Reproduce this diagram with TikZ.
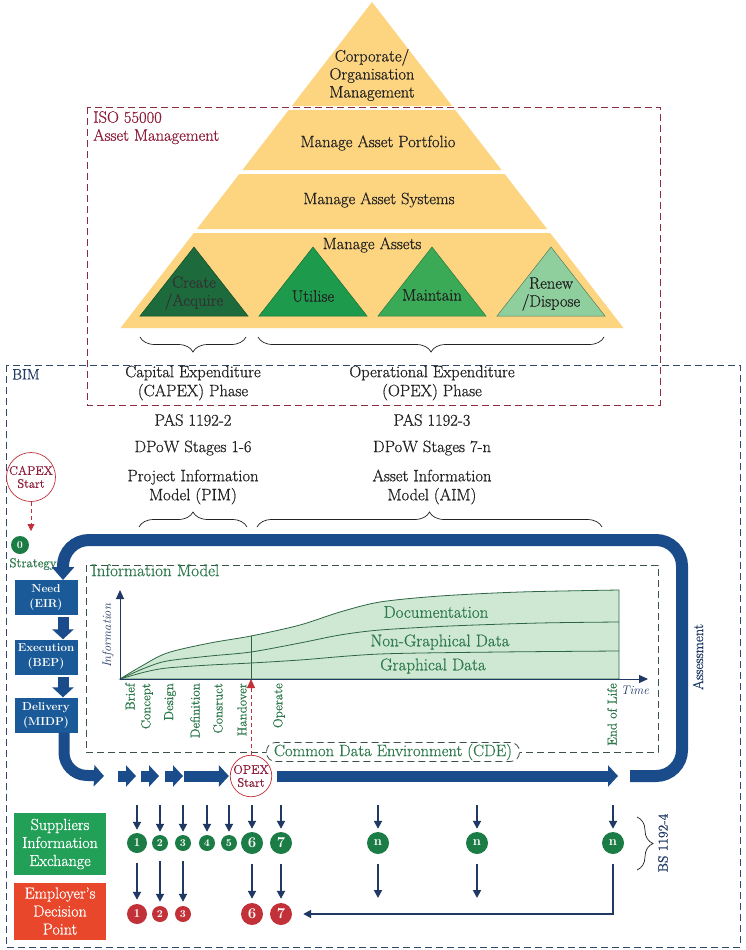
\documentclass[tikz,border=0pt]{standalone}
\usepackage{fontspec}
\setmainfont{Latin Modern Roman}[UprightFeatures={FakeBold=0.7}]
\usetikzlibrary{arrows.meta,decorations.pathreplacing,calc}
\definecolor{pyr}{HTML}{FDD581}
\definecolor{triA}{HTML}{1D6A3C}
\definecolor{triB}{HTML}{1E9A4D}
\definecolor{triC}{HTML}{3BAA56}
\definecolor{triD}{HTML}{8ECF9D}
\definecolor{navy}{HTML}{1F3864}
\definecolor{cband}{HTML}{1A4B8A}
\definecolor{boxnavy}{HTML}{1B5A98}
\definecolor{darkred}{HTML}{8E1F3C}
\definecolor{rdash}{HTML}{8A2B3E}
\definecolor{bdash}{HTML}{34486B}
\definecolor{cgreen}{HTML}{1B7C45}
\definecolor{cred}{HTML}{C23038}
\definecolor{supg}{HTML}{22A058}
\definecolor{empo}{HTML}{E9472B}
\definecolor{gfill}{HTML}{CFE8D3}
\definecolor{gline}{HTML}{2D6645}
\definecolor{gtext}{HTML}{2F7A4C}
\definecolor{imdash}{HTML}{3C5248}
\definecolor{txt}{HTML}{222222}
\begin{document}
\begin{tikzpicture}[x=1pt,y=-1pt,
  lbl/.style={font=\fontsize{16.5}{19}\selectfont, align=center, text=txt, inner sep=1pt},
  navybox/.style={fill=boxnavy, text=white, font=\bfseries\fontsize{11.5}{15}\selectfont, align=center, minimum width=63pt, minimum height=35pt, inner sep=0pt},
  bandline/.style={draw=cband, line width=12pt},
  blockarrow/.style={draw=cband, line width=11pt, -{Triangle[length=10pt,width=21pt]}},
  thinarrow/.style={draw=navy, line width=1.8pt, -{Triangle[length=8pt,width=8pt]}},
  brc/.style={draw=txt, line width=0.7pt, decorate, decoration={brace, amplitude=15pt}},
  gsmall/.style={circle, fill=cgreen, text=white, font=\bfseries\fontsize{10.5}{10}\selectfont, inner sep=0pt, minimum size=16pt},
  gmid/.style={circle, fill=cgreen, text=white, font=\bfseries\fontsize{12}{12}\selectfont, inner sep=0pt, minimum size=20pt},
  gbig/.style={circle, fill=cgreen, text=white, font=\bfseries\fontsize{15}{15}\selectfont, inner sep=0pt, minimum size=22pt},
  rsmall/.style={circle, fill=cred, text=white, font=\bfseries\fontsize{10.5}{10}\selectfont, inner sep=0pt, minimum size=16pt},
  rmid/.style={circle, fill=cred, text=white, font=\bfseries\fontsize{12}{12}\selectfont, inner sep=0pt, minimum size=20pt},
  rbig/.style={circle, fill=cred, text=white, font=\bfseries\fontsize{15}{15}\selectfont, inner sep=0pt, minimum size=22pt},
  startc/.style={circle, draw=cred, line width=0.7pt, fill=white, text=darkred, font=\fontsize{12.5}{13}\selectfont, align=center, inner sep=0pt, minimum size=41pt},
  reddash/.style={draw=cred, line width=0.8pt, dash pattern=on 4pt off 3pt},
  stage/.style={rotate=90, anchor=east, text=gtext, font=\fontsize{13}{15}\selectfont, inner sep=0pt},
  gtxt/.style={text=gtext, font=\fontsize{17}{19}\selectfont, inner sep=1pt},
  curve/.style={draw=gline, line width=0.8pt}
]
\useasboundingbox (0,0) rectangle (745,950);
\fill[white] (0,0) rectangle (745,950);

% ---------- pyramid ----------
\fill[pyr] (372,2) -- (452.2,106) -- (291.8,106) -- cycle;
\fill[pyr] (288.7,110) -- (455.3,110) -- (501.6,170) -- (242.4,170) -- cycle;
\fill[pyr] (239.3,174) -- (504.7,174) -- (547.1,229) -- (196.9,229) -- cycle;
\fill[pyr] (193.8,233) -- (550.2,233) -- (623.5,328) -- (120.5,328) -- cycle;
\filldraw[fill=triA, draw=triA!70!black, line width=0.5pt] (140,316) -- (194,247) -- (248,316) -- cycle;
\filldraw[fill=triB, draw=triB!70!black, line width=0.5pt] (259,316) -- (313,247) -- (367,316) -- cycle;
\filldraw[fill=triC, draw=triC!70!black, line width=0.5pt] (378,316) -- (432,247) -- (486,316) -- cycle;
\filldraw[fill=triD, draw=triD!60!black, line width=0.5pt] (497,316) -- (551,247) -- (605,316) -- cycle;

\node[lbl, font=\fontsize{16.5}{18}\selectfont] (corp) at (372,75) {Corporate/\\Organisation\\Management};
\node[lbl] (portf) at (378,143) {Manage Asset Portfolio};
\node[lbl] (syst) at (379,200) {Manage Asset Systems};
\node[lbl] (massets) at (372,245) {Manage Assets};
\node[lbl, text=black!80, font=\fontsize{16.5}{18}\selectfont] (create) at (194,293) {Create\\/Acquire};
\node[lbl] (util) at (313,296) {Utilise};
\node[lbl] (maint) at (432,295) {Maintain};
\node[lbl, font=\fontsize{16.5}{18}\selectfont] (renew) at (551,294) {Renew\\/Dispose};

% ---------- ISO box ----------
\draw[rdash, line width=0.8pt, dash pattern=on 7pt off 4pt] (87,107) rectangle (660,405);
\node[lbl, text=darkred, align=left, anchor=north west, font=\fontsize{16.5}{18}\selectfont] (iso) at (92,110) {ISO 55000\\Asset Management};

% ---------- BIM box ----------
\draw[bdash, line width=0.8pt, dash pattern=on 7pt off 4pt] (6,365) rectangle (740,947);
\node[lbl, text=navy, anchor=north west, font=\fontsize{15}{17}\selectfont] (bim) at (11,368) {BIM};

% ---------- braces and phase texts ----------
\draw[brc] (246,337) -- (140,337);
\draw[brc] (604,337) -- (258,337);
\node[lbl] (capexph) at (193,383) {Capital Expenditure\\(CAPEX) Phase};
\node[lbl] (opexph) at (432,383) {Operational Expenditure\\(OPEX) Phase};
\node[lbl] (pas2) at (193,420) {PAS 1192-2};
\node[lbl] (pas3) at (432,420) {PAS 1192-3};
\node[lbl] (dpow1) at (193,448) {DPoW Stages 1-6};
\node[lbl] (dpow2) at (432,448) {DPoW Stages 7-n};
\node[lbl] (pim) at (193,487) {Project Information\\Model (PIM)};
\node[lbl] (aim) at (432,487) {Asset Information\\Model (AIM)};
\draw[brc] (139,527) -- (247,527);
\draw[brc] (257,527) -- (602,527);

% ---------- CAPEX start ----------
\node[startc] (capex) at (31,477) {CAPEX\\Start};
\coordinate (zt) at (31,531);
\draw[reddash, -{Triangle[length=7pt,width=7pt]}] (capex) -- (zt);
\node[gsmall, minimum size=18pt] (zero) at (20,545) {0};
\node[text=gtext, font=\fontsize{13}{14}\selectfont, inner sep=0pt] (strat) at (33,564) {Strategy};

% ---------- information model ----------
\draw[imdash, line width=0.8pt, dash pattern=on 7pt off 4pt] (86,565) rectangle (658,752);
\node[gtxt, anchor=north west] (imodel) at (90,563) {Information Model};

\coordinate (orig) at (120,679);
\draw[curve, fill=gfill] plot[smooth] coordinates {(120,679) (140,667) (167,653) (210,643) (251,636) (300,625) (340,612) (380,602) (440,596) (520,592) (619,590)} -- (619,679) -- cycle;
\draw[curve] plot[smooth] coordinates {(120,679) (145,668) (167,661) (210,656) (251,652) (300,643) (340,635) (380,630) (450,626) (540,623) (619,622)};
\draw[curve] plot[smooth] coordinates {(120,679) (145,672) (167,668) (210,665) (251,663) (300,660) (380,654) (500,652) (619,651)};
\draw[curve] (251,636) -- (251,679);

\draw[navy, line width=1pt, -{Triangle[length=9pt,width=8pt]}] (orig) -- (120,590);
\draw[navy, line width=1pt, -{Triangle[length=9pt,width=8pt]}] (orig) -- (648,679);
\node[rotate=90, text=navy, font=\itshape\fontsize{12.5}{14}\selectfont] (infolbl) at (108,636) {Information};
\node[text=navy, font=\itshape\fontsize{12.5}{14}\selectfont] (timelbl) at (635,690) {Time};

\node[gtxt] (doc) at (436,612) {Documentation};
\node[gtxt] (ngd) at (440,642) {Non-Graphical Data};
\node[gtxt] (gd) at (433,666) {Graphical Data};

\node[stage] (st1) at (130,683) {Brief};
\node[stage] (st2) at (147,683) {Concept};
\node[stage] (st3) at (170,683) {Design};
\node[stage] (st4) at (195,683) {Definition};
\node[stage] (st5) at (218,683) {Consruct};
\node[stage] (st6) at (242,683) {Handover};
\node[stage] (st7) at (279,683) {Operate};
\node[stage] (st8) at (612,683) {End of Life};

\node[gtxt, font=\fontsize{16.5}{18}\selectfont, draw=imdash, line width=0.8pt, dash pattern=on 7pt off 4pt, rounded corners=9pt, fill=white, minimum width=253pt, minimum height=19pt, inner sep=0pt] (cde) at (393,752) {Common Data Environment (CDE)};

% ---------- left process boxes ----------
\node[navybox] (need) at (46,597) {Need\\(EIR)};
\node[navybox] (exec) at (46,657) {Execution\\(BEP)};
\node[navybox] (deliv) at (46,715) {Delivery\\(MIDP)};
\draw[blockarrow] ([xshift=17pt]need.south) ++(0,2) -- ([xshift=17pt]exec.north);
\draw[blockarrow] ([xshift=17pt]exec.south) ++(0,2) -- ([xshift=17pt]deliv.north);

% ---------- main loop ----------
\coordinate (lstart) at (630,776);
\coordinate (lend) at (618,776);
\draw[bandline, rounded corners=26pt, -{Triangle[length=13pt,width=22pt]}] (lstart) -- (682,776) -- (682,540) -- (63,540) -- (63,580);
\node[rotate=90, text=navy, font=\fontsize{14.5}{16}\selectfont] (assess) at (698,657) {Assessment};

% ---------- OPEX start and flow ----------
\node[startc] (opex) at (251,776) {OPEX\\Start};
\draw[reddash, -{Triangle[length=9pt,width=8pt]}] (opex) -- (orig -| opex);
\draw[bandline, line width=11pt, rounded corners=22pt, -{Triangle[length=10pt,width=21pt]}] ([xshift=18pt]deliv.south) -- ++(0,42) -- (104,776);
\coordinate (f1s) at (118,776); \coordinate (f1e) at (136,776);
\coordinate (f2s) at (141,776); \coordinate (f2e) at (159,776);
\coordinate (f3s) at (165,776); \coordinate (f3e) at (183,776);
\coordinate (f4s) at (184,776);
\draw[blockarrow] (f1s) -- (f1e);
\draw[blockarrow] (f2s) -- (f2e);
\draw[blockarrow] (f3s) -- (f3e);
\draw[blockarrow, shorten >=1pt] (f4s) -- (opex);
\draw[blockarrow, shorten <=5pt] (opex) -- (lend);

% ---------- suppliers / employer ----------
\node[fill=supg, text=white, font=\fontsize{16}{18}\selectfont, align=center, minimum width=92pt, minimum height=62pt, inner sep=0pt] (sup) at (60,844) {Suppliers\\Information\\Exchange};
\node[fill=empo, text=white, font=\fontsize{16}{18}\selectfont, align=center, minimum width=92pt, minimum height=57pt, inner sep=0pt] (emp) at (60,911) {Employer's\\Decision\\Point};

\node[gmid] (s1) at (137,843) {1};
\node[gsmall] (s2) at (160,843) {2};
\node[gsmall] (s3) at (183,843) {3};
\node[gsmall] (s4) at (207,843) {4};
\node[gsmall] (s5) at (229,843) {5};
\node[gbig] (s6) at (252,843) {6};
\node[gbig] (s7) at (281,843) {7};
\node[gbig, font=\bfseries\fontsize{13}{13}\selectfont] (n1) at (378,843) {n};
\node[gbig, font=\bfseries\fontsize{13}{13}\selectfont] (n2) at (477,843) {n};
\node[gbig, font=\bfseries\fontsize{13}{13}\selectfont] (n3) at (613,843) {n};

\node[rmid] (e1) at (137,914) {1};
\node[rsmall] (e2) at (160,914) {2};
\node[rsmall] (e3) at (183,914) {3};
\node[rbig] (e6) at (252,914) {6};
\node[rbig] (e7) at (281,914) {7};

\foreach \n/\x in {s1/137,s2/160,s3/183,s4/207,s5/229,s6/252,s7/281,n1/378,n2/477,n3/613}{
  \coordinate (t\n) at (\x,805);
  \draw[thinarrow, shorten >=3pt] (t\n) -- (\n);
}
\foreach \a/\b in {s1/e1,s2/e2,s3/e3,s6/e6,s7/e7}{
  \draw[thinarrow, shorten <=10pt, shorten >=4pt] (\a) -- (\b);
}
\coordinate (b1) at (378,898);
\coordinate (b2) at (477,898);
\draw[thinarrow, shorten <=10pt] (n1) -- (b1);
\draw[thinarrow, shorten <=10pt] (n2) -- (b2);
\draw[thinarrow, shorten <=10pt, shorten >=11pt] (n3) |- (e7);

\draw[brc, decoration={brace, amplitude=16pt}] (637,817) -- (637,870);
\node[rotate=90, text=navy, font=\fontsize{13.5}{15}\selectfont] (bs) at (663,843) {BS 1192-4};
\end{tikzpicture}
\end{document}
